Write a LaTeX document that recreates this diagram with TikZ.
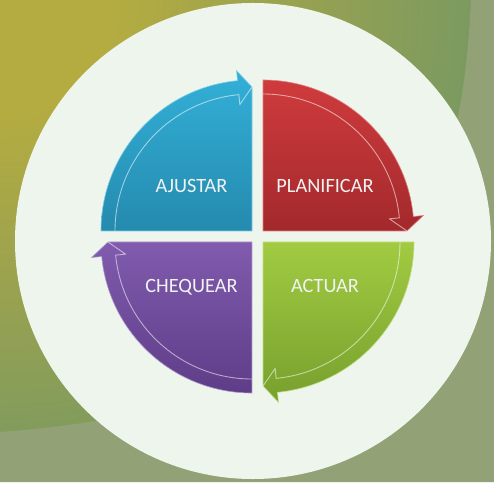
\documentclass[tikz,border=0pt]{standalone}
\usepackage{fontspec}
\setmainfont{Carlito}
\usetikzlibrary{calc}
\definecolor{bgyellow}{HTML}{B4AC41}
\definecolor{bgmid}{HTML}{A0A44C}
\definecolor{bggreen}{HTML}{7C9A60}
\definecolor{bglight}{HTML}{93A276}
\definecolor{disc}{HTML}{EEF5EC}
\definecolor{bluetop}{HTML}{33B0D8}
\definecolor{bluebot}{HTML}{258AAE}
\definecolor{redtop}{HTML}{CF3B3D}
\definecolor{redbot}{HTML}{A3292C}
\definecolor{greentop}{HTML}{A2CB42}
\definecolor{greenbot}{HTML}{76A02D}
\definecolor{purptop}{HTML}{815BAE}
\definecolor{purpbot}{HTML}{5E3D88}
\definecolor{labeltext}{HTML}{F1F3F3}
\pgfdeclareradialshading{bgradial}{\pgfpointorigin}{%
  color(0bp)=(bgyellow); color(6bp)=(bgyellow); color(13bp)=(bgmid); color(25bp)=(bggreen); color(50bp)=(bggreen)}
\newcommand\quadshape[4]{%
  \begin{scope}[shift={#1}]
    \shade[top color=#3, bottom color=#4, draw=#3!65!white, line width=0.6pt]
      (0,0) -- ({#2+90}:151) arc[start angle={#2+90}, end angle={#2+5.5}, radius=151]
      -- ({#2+5.5}:161) -- (#2:144) -- cycle;
    \draw[white, opacity=0.55, line width=0.9pt, line join=round]
      ({#2+90}:137) arc[start angle={#2+90}, end angle={#2+5.5}, radius=137]
      -- ({#2+5.5}:127) -- (#2:144);
  \end{scope}}
\tikzset{quadlabel/.style={text=labeltext, font=\fontsize{20.3}{21}\selectfont, anchor=base, inner sep=0pt}}
\begin{document}
\begin{tikzpicture}[x=1pt,y=1pt]
\useasboundingbox (0,0) rectangle (494,482);
% background
\begin{scope}
  \clip (0,0) rectangle (494,482);
  \fill[bggreen] (0,0) rectangle (494,482);
  \shade[shading=bgradial] (0,482) circle[radius=470];
  \fill[bglight] (471,482) .. controls (462,300) and (420,80) .. (0,50) -- (0,0) -- (494,0) -- (494,482) -- cycle;
\end{scope}
% pale disc
\fill[disc] (253,241) circle[radius=238];
% quadrants
\quadshape{(263,251)}{0}{redtop}{redbot}
\quadshape{(252,251)}{90}{bluetop}{bluebot}
\quadshape{(252,240)}{180}{purptop}{purpbot}
\quadshape{(263,240)}{270}{greentop}{greenbot}
% labels
\node[quadlabel] (ajustar) at (191.5,289) {AJUSTAR};
\node[quadlabel] (planificar) at (325,289) {PLANIFICAR};
\node[quadlabel] (chequear) at (191.5,190) {CHEQUEAR};
\node[quadlabel] (actuar) at (325,190) {ACTUAR};
\end{tikzpicture}
\end{document}
